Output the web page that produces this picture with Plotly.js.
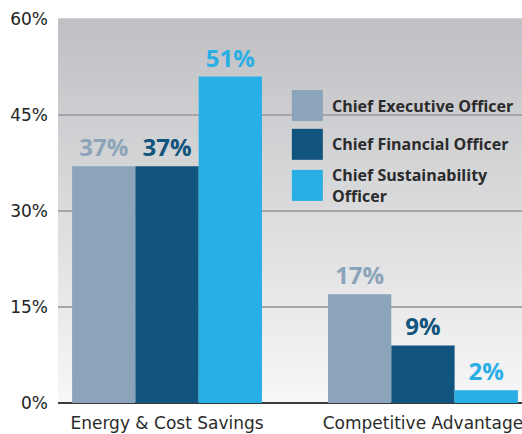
<!DOCTYPE html>
<html><head><meta charset="utf-8">
<script src="https://cdn.plot.ly/plotly-3.0.1.min.js"></script>
<style>html,body{margin:0;padding:0;background:#fff}#chart{width:522px;height:434px}</style>
</head><body><div id="chart"></div>
<script>
const categories = ["Energy & Cost Savings", "Competitive Advantage"];
const seriesNames = ["Chief Executive Officer", "Chief Financial Officer", "Chief Sustainability<br>Officer"];
const ceoValues = [37, 17];
const cfoValues = [37, 9];
const csoValues = [51, 2];
const colors = ["#8ca4b9", "#11547d", "#29afe5"];
const tickVals = [0, 15, 30, 45, 60];
const tickText = ["0%", "15%", "30%", "45%", "60%"];

const allValues = [ceoValues, cfoValues, csoValues];
const traces = allValues.map((vals, i) => ({
  type: "bar",
  x: categories,
  y: vals,
  name: seriesNames[i],
  marker: {color: colors[i], line: {width: 0}},
  text: vals.map(v => v + "%"),
  textposition: "outside",
  cliponaxis: false,
  textfont: {family: "Open Sans, sans-serif", size: 24, color: colors[i], weight: 700},
  showlegend: false,
  hoverinfo: "skip"
}));

// background gradient strips
const shapes = [];
const N = 80;
const gradTop = [0xbf, 0xc0, 0xc3], gradBot = [0xf7, 0xf7, 0xf8];
for (let k = 0; k < N; k++) {
  const t = (k + 0.5) / N;
  const c = gradBot.map((b, j) => Math.round(b + (gradTop[j] - b) * t));
  shapes.push({type: "rect", xref: "paper", yref: "paper", x0: 0, x1: 1,
    y0: k / N, y1: (k + 1) / N + 0.002, layer: "below",
    fillcolor: `rgb(${c[0]},${c[1]},${c[2]})`, line: {width: 0}});
}
// custom legend
const annotations = [];
const legTop = [0.815, 0.714, 0.607];
const sq = 31 / 384;
seriesNames.forEach((n, i) => {
  shapes.push({type: "rect", xref: "paper", yref: "paper",
    x0: 0.504, x1: 0.504 + 31 / 464, y0: legTop[i] - sq, y1: legTop[i],
    fillcolor: colors[i], line: {width: 0}});
  annotations.push({xref: "paper", yref: "paper", x: 0.586, y: legTop[i] - sq / 2,
    xanchor: "left", yanchor: "middle", align: "left", showarrow: false, text: n,
    font: {family: "Open Sans, sans-serif", size: 16, color: "#2b2b2b", weight: 700}});
});

const layout = {
  width: 522, height: 434,
  margin: {l: 58, r: 0, t: 19, b: 31},
  paper_bgcolor: "#ffffff",
  plot_bgcolor: "rgba(0,0,0,0)",
  barmode: "group",
  bargap: 0.258,
  bargroupgap: 0,
  showlegend: false,
  xaxis: {range: [-0.426, 1.387], showgrid: false, zeroline: false, showline: false,
    ticks: "", ticklabelstandoff: 8,
    tickfont: {family: "DejaVu Sans, sans-serif", size: 17, color: "#2b2b2b"}, fixedrange: true},
  yaxis: {range: [0, 60], tickvals: tickVals, ticktext: tickText, showgrid: true,
    gridcolor: "#a6a6a8", gridwidth: 1.5, zeroline: true, zerolinecolor: "#3a3a3a", zerolinewidth: 2,
    showline: false, ticks: "", ticklabelstandoff: 9,
    tickfont: {family: "DejaVu Sans, sans-serif", size: 17, color: "#222222"}, fixedrange: true},
  shapes: shapes,
  annotations: annotations
};
Plotly.newPlot("chart", traces, layout, {displayModeBar: false, staticPlot: true});
</script></body></html>
